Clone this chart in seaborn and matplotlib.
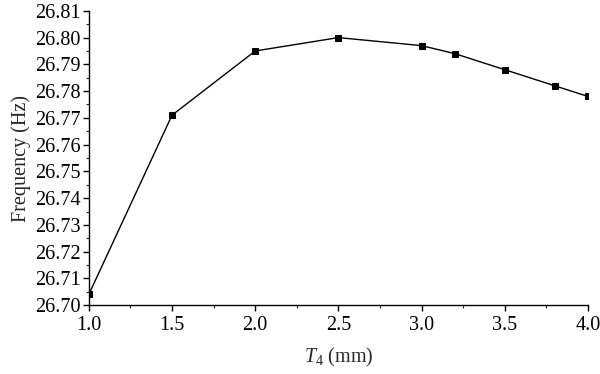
import pandas as pd
import matplotlib.pyplot as plt
import seaborn as sns
from matplotlib.ticker import MultipleLocator

# data
t4 = [1.0, 1.5, 2.0, 2.5, 3.0, 3.2, 3.5, 3.8, 4.0]
freq = [26.704, 26.771, 26.795, 26.800, 26.797, 26.794, 26.788, 26.782, 26.778]

df = pd.DataFrame({'t4': t4, 'freq': freq})

sns.set_style('ticks')
plt.rcParams['font.family'] = ['Liberation Serif', 'DejaVu Serif']
plt.rcParams['mathtext.fontset'] = 'custom'
plt.rcParams['mathtext.it'] = 'Liberation Serif:italic'
plt.rcParams['mathtext.rm'] = 'Liberation Serif'

fig = plt.figure(figsize=(6, 3.74), dpi=100)
ax = fig.add_axes([0.148, 0.184, 0.832, 0.787])

sns.lineplot(data=df, x='t4', y='freq', ax=ax, color='black', linewidth=1,
             marker='s', markersize=5, markeredgecolor='black', markerfacecolor='black')
for ln in ax.lines:
    ln.set_clip_on(True)

ax.set_xlim(1.0, 4.0)
ax.set_ylim(26.70, 26.81)
ax.xaxis.set_major_locator(MultipleLocator(0.5))
ax.xaxis.set_minor_locator(MultipleLocator(0.25))
ax.yaxis.set_major_locator(MultipleLocator(0.01))
ax.yaxis.set_minor_locator(MultipleLocator(0.005))
ax.xaxis.set_major_formatter(plt.FormatStrFormatter('%.1f'))
ax.yaxis.set_major_formatter(plt.FormatStrFormatter('%.2f'))

ax.tick_params(which='major', direction='out', length=4, width=1, labelsize=14.5, colors='black', pad=2)
ax.tick_params(axis='x', which='major', pad=4)
ax.tick_params(which='minor', direction='out', length=2.5, width=0.8)
for s in ['left', 'bottom']:
    ax.spines[s].set_linewidth(1)
    ax.spines[s].set_color('black')
sns.despine(ax=ax)

ax.set_xlabel('$T_4$ (mm)', fontsize=14.5, labelpad=8)
ax.set_ylabel('Frequency (Hz)', fontsize=14.5, labelpad=3)

fig.savefig('out.png', dpi=100)
